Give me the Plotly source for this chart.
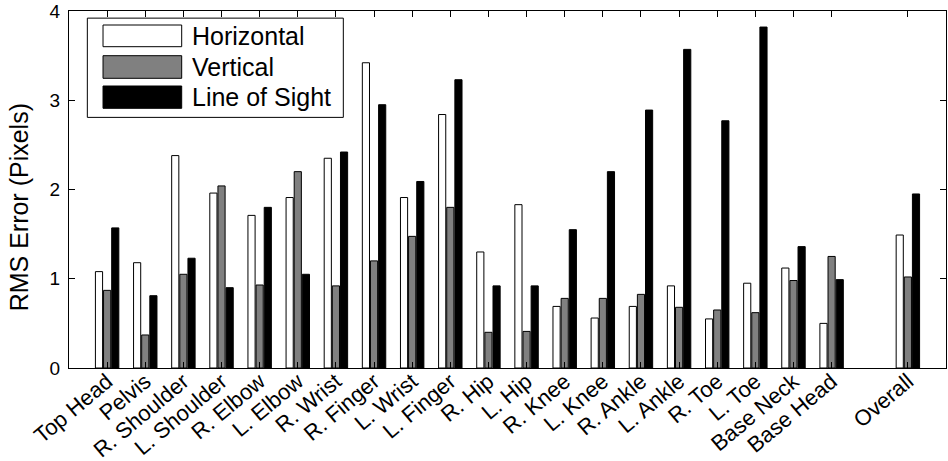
import plotly.graph_objects as go

categories = ["Top Head", "Pelvis", "R. Shoulder", "L. Shoulder", "R. Elbow", "L. Elbow",
              "R. Wrist", "R. Finger", "L. Wrist", "L. Finger", "R. Hip", "L. Hip",
              "R. Knee", "L. Knee", "R. Ankle", "L. Ankle", "R. Toe", "L. Toe",
              "Base Neck", "Base Head", "Overall"]
horizontal = [1.08, 1.18, 2.38, 1.96, 1.71, 1.91, 2.35, 3.42, 1.91, 2.84, 1.30, 1.83,
              0.69, 0.56, 0.69, 0.92, 0.55, 0.95, 1.12, 0.50, 1.49]
vertical = [0.87, 0.37, 1.05, 2.04, 0.93, 2.20, 0.92, 1.20, 1.475, 1.80, 0.40, 0.41,
            0.78, 0.78, 0.825, 0.68, 0.65, 0.62, 0.98, 1.25, 1.02]
line_of_sight = [1.57, 0.81, 1.23, 0.90, 1.80, 1.05, 2.42, 2.95, 2.09, 3.23, 0.92, 0.92,
                 1.55, 2.20, 2.89, 3.57, 2.77, 3.82, 1.36, 0.99, 1.95]
series_names = ["Horizontal", "Vertical", "Line of Sight"]
series_colors = ["#ffffff", "#808080", "#000000"]
y_ticks = [0, 1, 2, 3, 4]

# slot positions: one empty slot before "Overall"
xpos = []
p = 0
for c in categories:
    p += 2 if c == "Overall" else 1
    xpos.append(p)

FONT = "Liberation Sans, Arial, sans-serif"
fig = go.Figure()
for name, vals, col in zip(series_names, [horizontal, vertical, line_of_sight], series_colors):
    fig.add_trace(go.Bar(x=xpos, y=vals, name=name, marker=dict(color=col, line=dict(color="black", width=1)),
                         showlegend=False))

fig.update_layout(
    width=948, height=461,
    margin=dict(l=69, r=2, t=11, b=93),
    paper_bgcolor="white", plot_bgcolor="white",
    barmode="group", bargap=0.36, bargroupgap=0.12,
    font=dict(family=FONT, color="black", size=20),
)
fig.update_xaxes(range=[0, p + 1], tickvals=xpos, ticktext=categories, tickangle=-40,
                 ticks="inside", ticklen=6, tickcolor="black", mirror="ticks", automargin=False,
                 showline=True, linecolor="black", linewidth=1, showgrid=False, zeroline=False,
                 tickfont=dict(size=22, family=FONT), ticklabelstandoff=-9)
fig.update_yaxes(range=[0, 4], tickvals=y_ticks, ticks="inside", ticklen=6, tickcolor="black",
                 mirror="ticks", showline=True, linecolor="black", linewidth=1, showgrid=False,
                 zeroline=False, tickfont=dict(size=19, family=FONT), ticklabelstandoff=4,
                 automargin=False, ticklabeloverflow="allow")

# y-axis title
fig.add_annotation(xref="paper", yref="paper", x=-0.057, y=0.45, text="RMS Error (Pixels)",
                   textangle=-90, showarrow=False, xanchor="center", yanchor="middle",
                   font=dict(size=25, family=FONT, color="black"))

# legend box drawn in paper coordinates
fig.add_shape(type="rect", xref="paper", yref="paper", x0=0.0209, x1=0.3128, y0=0.702, y1=0.98,
              line=dict(color="black", width=1), fillcolor="white", layer="above")
row_tops = [25, 55.7, 86]
row_bots = [46.7, 78.3, 108.3]
for name, col, t, b in zip(series_names, series_colors, row_tops, row_bots):
    y0 = (368 - b) / 357
    y1 = (368 - t) / 357
    fig.add_shape(type="rect", xref="paper", yref="paper", x0=0.0388, x1=0.1285, y0=y0, y1=y1,
                  line=dict(color="black", width=1), fillcolor=col, layer="above")
    fig.add_annotation(xref="paper", yref="paper", x=0.1378, y=(y0 + y1) / 2, text=name,
                       showarrow=False, xanchor="left", yanchor="middle",
                       font=dict(size=25, family=FONT, color="black"))

fig.write_html("out.html", config={"displayModeBar": False},
               post_script="document.body.style.margin='0';")
